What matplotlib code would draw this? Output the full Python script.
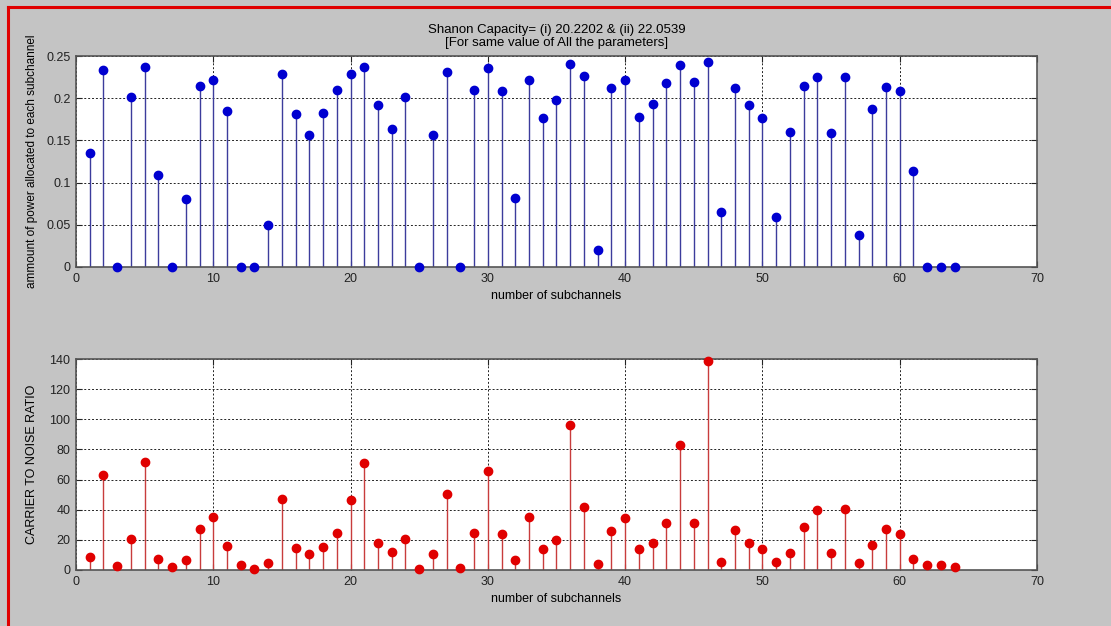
import numpy as np
import matplotlib
matplotlib.use("Agg")
from matplotlib import pyplot as plt
from matplotlib.lines import Line2D

plt.rcParams['font.family'] = ['Liberation Sans', 'DejaVu Sans']
plt.rcParams['font.size'] = 9

# subchannel index
channels = np.arange(1, 65)

# power allocated to each subchannel (water filling)
power = [0.135, 0.234, 0.0, 0.2016, 0.2366, 0.109, 0.0, 0.080, 0.214, 0.2217,
         0.1846, 0.0, 0.0, 0.0496, 0.2287, 0.181, 0.1567, 0.1823, 0.2094, 0.2287,
         0.2366, 0.1925, 0.164, 0.2016, 0.0, 0.1567, 0.2307, 0.0, 0.2094, 0.2354,
         0.2087, 0.0819, 0.222, 0.1768, 0.198, 0.240, 0.2264, 0.020, 0.2118, 0.222,
         0.178, 0.1937, 0.2177, 0.239, 0.219, 0.243, 0.0654, 0.2118, 0.1925, 0.1768,
         0.0587, 0.160, 0.215, 0.2252, 0.1587, 0.2252, 0.0382, 0.1878, 0.213, 0.2083,
         0.1138, 0.0, 0.0, 0.0]

# carrier to noise ratio of each subchannel
cnr = [8.8, 63.0, 2.4, 20.7, 71.9, 7.5, 1.8, 6.4, 27.1, 35.3,
       15.7, 3.1, 0.7, 4.9, 47.2, 14.3, 10.6, 15.0, 24.7, 46.5,
       71.2, 17.6, 11.9, 20.7, 0.7, 10.6, 50.3, 1.3, 24.7, 65.5,
       24.0, 6.4, 35.3, 13.9, 19.6, 96.3, 42.1, 4.2, 25.8, 34.6,
       13.9, 17.6, 30.9, 82.7, 31.5, 138.7, 5.5, 26.5, 17.6, 13.9,
       5.5, 11.2, 28.2, 39.7, 11.2, 40.3, 4.9, 16.3, 27.1, 23.8,
       7.5, 3.1, 3.1, 1.8]

bg = '#c4c4c4'
fig = plt.figure(figsize=(11.11, 6.26), dpi=100, facecolor=bg)

ax1 = fig.add_axes([0.0684, 0.5735, 0.865, 0.337])
ax2 = fig.add_axes([0.0684, 0.0895, 0.865, 0.337])


def stem_plot(ax, y, line_col, mark_col):
    markers, stems, base = ax.stem(channels, y)
    plt.setp(stems, color=line_col, linewidth=1.0)
    plt.setp(markers, color=mark_col, markersize=6, clip_on=False, zorder=4)
    base.set_visible(False)
    ax.set_xlim(0, 70)
    ax.set_xticks(range(0, 71, 10))
    ax.grid(True, color='#222222', linestyle=(0, (2, 2)), linewidth=0.7)
    ax.set_axisbelow(True)
    ax.tick_params(direction='in', length=4, top=True, right=True, pad=4,
                   labelsize=9, colors='#222222')
    for s in ax.spines.values():
        s.set_color('#555555')
        s.set_linewidth(1.2)
    ax.set_xlabel('number of subchannels', fontsize=9, labelpad=4)


stem_plot(ax1, power, '#3c3c9c', '#0000d0')
ax1.set_ylim(0, 0.25)
ax1.set_yticks([0, 0.05, 0.1, 0.15, 0.2, 0.25])
ax1.set_yticklabels(['0', '0.05', '0.1', '0.15', '0.2', '0.25'])
ax1.set_ylabel('ammount of power allocated to each subchannel', fontsize=8.5, labelpad=6)
ax1.set_title('Shanon Capacity= (i) 20.2202 & (ii) 22.0539\n[For same value of All the parameters]',
              fontsize=9.5, pad=7, linespacing=1.2)

stem_plot(ax2, cnr, '#c83c3c', '#e00000')
ax2.set_ylim(0, 140)
ax2.set_yticks(range(0, 141, 20))
ax2.set_ylabel('CARRIER TO NOISE RATIO', fontsize=9, labelpad=8)

# red frame on top and left edges
fig.add_artist(Line2D([8 / 1111, 1.0], [1 - 7 / 626, 1 - 7 / 626],
                      transform=fig.transFigure, color='#e00000', linewidth=2.2))
fig.add_artist(Line2D([8 / 1111, 8 / 1111], [0.0, 1 - 7 / 626],
                      transform=fig.transFigure, color='#e00000', linewidth=2.2))

fig.savefig('out.png', dpi=100, facecolor=bg)
